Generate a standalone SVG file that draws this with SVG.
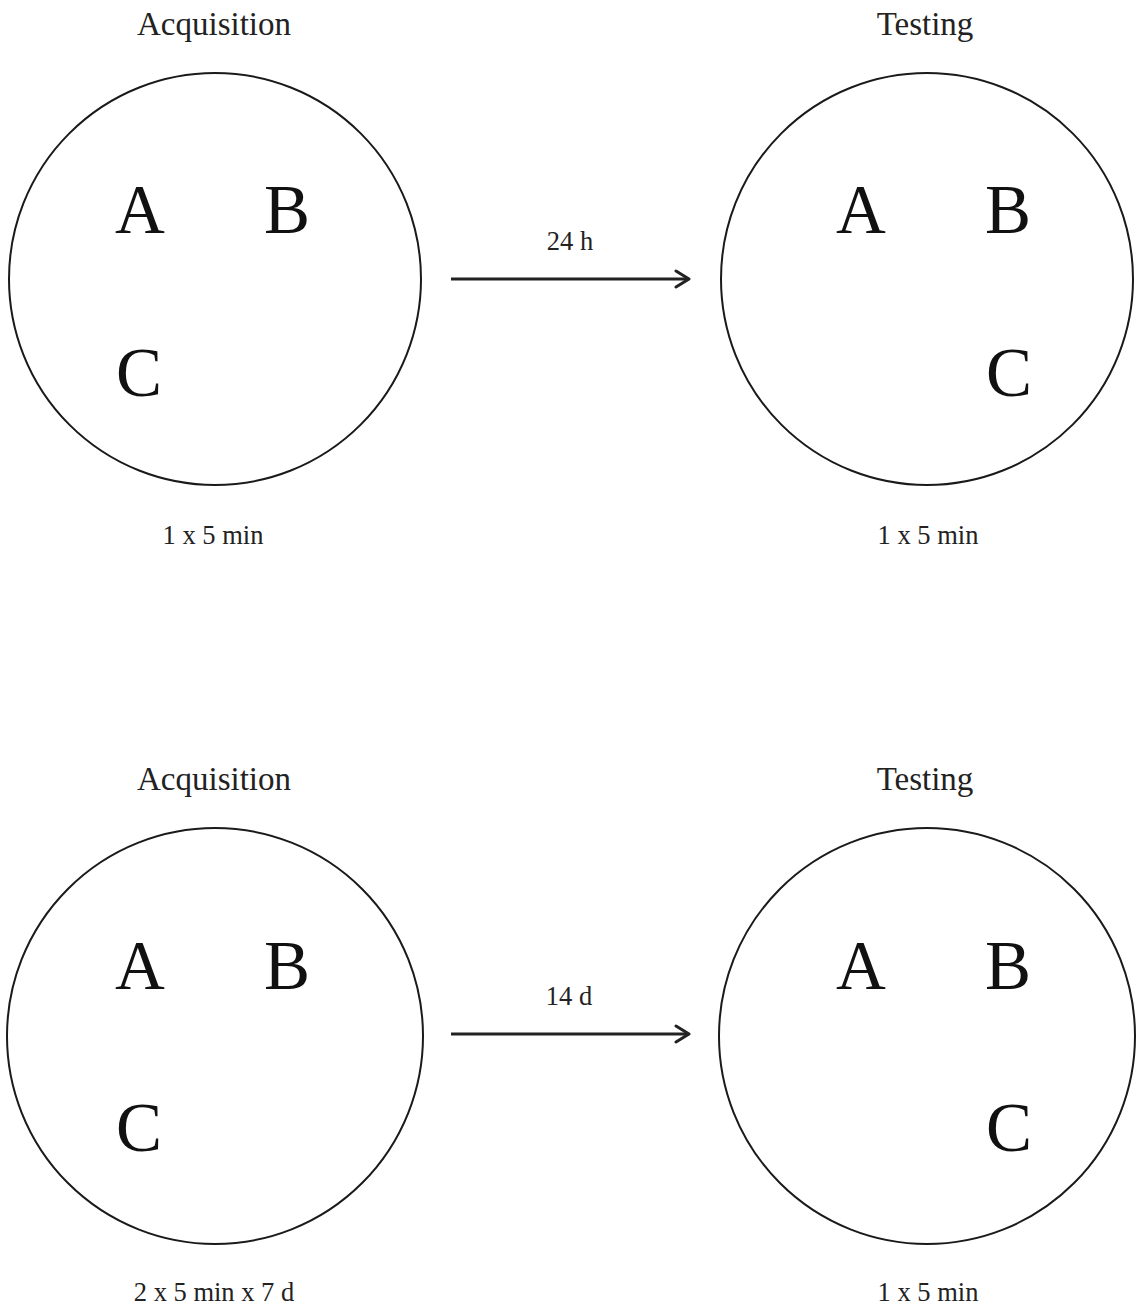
<svg xmlns="http://www.w3.org/2000/svg" width="1137" height="1309" viewBox="0 0 1137 1309">
<style>
.arena{fill:none;stroke:#1a1a1a;stroke-width:2}
.obj{font-family:"Liberation Serif",serif;font-size:69px;fill:#111;text-anchor:middle}
.title{font-family:"Liberation Serif",serif;font-size:33px;fill:#222;text-anchor:middle}
.note{font-family:"Liberation Serif",serif;font-size:26.5px;fill:#222;text-anchor:middle}
.conn{stroke:#222;stroke-width:3;fill:none}
</style>
<defs>
<marker id="arr" markerWidth="18" markerHeight="20" refX="15" refY="10" orient="auto" markerUnits="userSpaceOnUse">
<path d="M2,2 L15,10 L2,18" fill="none" stroke="#222" stroke-width="3" stroke-linecap="round" stroke-linejoin="round"/>
</marker>
</defs>
<rect width="1137" height="1309" fill="#fff"/>

<g id="top-acquisition">
<text class="title" x="214" y="35">Acquisition</text>
<circle class="arena" cx="215" cy="279" r="206"/>
<text class="obj" x="140" y="233">A</text>
<text class="obj" x="287" y="233">B</text>
<text class="obj" x="139" y="396">C</text>
<text class="note" x="213" y="544">1 x 5 min</text>
</g>

<g id="top-testing">
<text class="title" x="925" y="35">Testing</text>
<circle class="arena" cx="927" cy="279" r="206"/>
<text class="obj" x="861" y="233">A</text>
<text class="obj" x="1008" y="233">B</text>
<text class="obj" x="1009" y="396">C</text>
<text class="note" x="928" y="544">1 x 5 min</text>
</g>

<g id="bottom-acquisition">
<text class="title" x="214" y="790">Acquisition</text>
<circle class="arena" cx="215" cy="1036" r="208"/>
<text class="obj" x="140" y="989">A</text>
<text class="obj" x="287" y="989">B</text>
<text class="obj" x="139" y="1151">C</text>
<text class="note" x="214" y="1301">2 x 5 min x 7 d</text>
</g>

<g id="bottom-testing">
<text class="title" x="925" y="790">Testing</text>
<circle class="arena" cx="927" cy="1036" r="208"/>
<text class="obj" x="861" y="989">A</text>
<text class="obj" x="1008" y="989">B</text>
<text class="obj" x="1009" y="1151">C</text>
<text class="note" x="928" y="1301">1 x 5 min</text>
</g>

<g id="connectors">
<line class="conn" x1="451" y1="279" x2="689" y2="279" marker-end="url(#arr)"/>
<text class="note" x="570" y="250">24 h</text>
<line class="conn" x1="451" y1="1034" x2="689" y2="1034" marker-end="url(#arr)"/>
<text class="note" x="569" y="1005">14 d</text>
</g>
</svg>
